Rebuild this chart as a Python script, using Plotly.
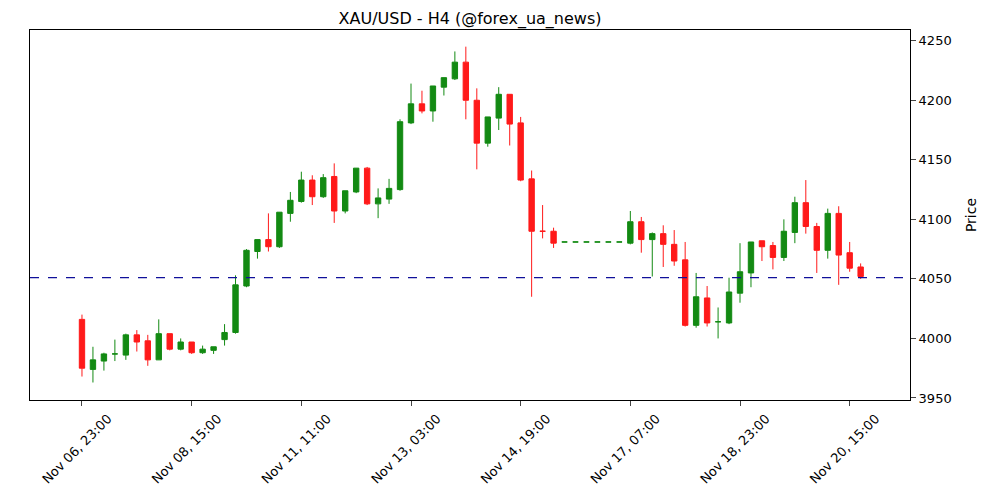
import plotly.graph_objects as go

opens = [4016, 3974, 3981, 3987, 3986, 4003, 3998, 3982, 4004, 3991,
         3997, 3988, 3990, 3999, 4005, 4044, 4073, 4083, 4077, 4105,
         4115, 4133, 4119, 4136, 4107, 4123, 4143, 4113, 4117, 4125,
         4181, 4197, 4191, 4211, 4218, 4232, 4200, 4164, 4185, 4205,
         4181, 4134, 4090, 4090, 4081, 4081, 4081, 4081, 4081, 4081,
         4080, 4098, 4083, 4088, 4079, 4066, 4011, 4034, 4014, 4013,
         4038, 4055, 4082, 4078, 4068, 4089, 4114, 4094, 4074, 4105,
         4072, 4060]
highs = [4020, 3993, 3988, 3999, 4004, 4007, 4003, 4016, 4004, 4000,
         3997, 3994, 3993, 4012, 4053, 4075, 4083, 4105, 4106, 4123,
         4140, 4137, 4138, 4147, 4124, 4143, 4144, 4126, 4134, 4184,
         4214, 4208, 4212, 4219, 4241, 4245, 4210, 4186, 4211, 4205,
         4186, 4141, 4112, 4093, 4081, 4081, 4081, 4081, 4081, 4081,
         4107, 4102, 4089, 4095, 4091, 4081, 4055, 4044, 4026, 4051,
         4080, 4081, 4082, 4081, 4100, 4119, 4133, 4097, 4109, 4111,
         4081, 4063]
lows = [3968, 3963, 3973, 3981, 3982, 3989, 3977, 3982, 3990, 3990,
        3987, 3987, 3987, 3994, 4004, 4043, 4067, 4073, 4076, 4098,
        4114, 4112, 4118, 4097, 4105, 4122, 4112, 4101, 4113, 4124,
        4180, 4189, 4182, 4204, 4217, 4184, 4142, 4161, 4175, 4162,
        4132, 4035, 4084, 4076, 4081, 4081, 4081, 4081, 4081, 4081,
        4079, 4072, 4052, 4060, 4061, 4010, 4009, 4010, 4000, 4012,
        4030, 4043, 4065, 4058, 4065, 4080, 4088, 4055, 4067, 4045,
        4056, 4050]
closes = [3975, 3982, 3987, 3987, 4003, 3997, 3982, 4004, 3991, 3997,
          3988, 3991, 3993, 4005, 4045, 4074, 4083, 4077, 4106, 4116,
          4133, 4119, 4135, 4107, 4124, 4143, 4113, 4118, 4126, 4182,
          4197, 4191, 4212, 4219, 4232, 4200, 4164, 4186, 4205, 4180,
          4133, 4090, 4090, 4080, 4081, 4081, 4081, 4081, 4081, 4081,
          4098, 4083, 4088, 4079, 4065, 4011, 4035, 4013, 4014, 4039,
          4056, 4081, 4077, 4068, 4090, 4114, 4094, 4074, 4105, 4070,
          4059, 4052]
level = 4051

tick_pos = [0, 10, 20, 30, 40, 50, 60, 70]
tick_text = ["Nov 06, 23:00", "Nov 08, 15:00", "Nov 11, 11:00", "Nov 13, 03:00",
             "Nov 14, 19:00", "Nov 17, 07:00", "Nov 18, 23:00", "Nov 20, 15:00"]
idx = list(range(len(opens)))

fig = go.Figure()
fig.add_trace(go.Candlestick(
    x=idx, open=opens, high=highs, low=lows, close=closes,
    increasing=dict(line=dict(color="#138a13", width=1), fillcolor="#138a13"),
    decreasing=dict(line=dict(color="#ff1a1a", width=1), fillcolor="#ff1a1a"),
    whiskerwidth=0, showlegend=False))
fig.add_hline(y=level, line=dict(color="#10109a", width=1.2, dash="dash"))

axis_style = dict(showline=True, linecolor="black", mirror=True, ticks="outside",
                  showgrid=False, zeroline=False, automargin=False,
                  tickfont=dict(size=13, color="black"))
fig.update_layout(
    width=1000, height=500, plot_bgcolor="white", paper_bgcolor="white",
    font=dict(family="DejaVu Sans"),
    title=dict(text="XAU/USD - H4 (@forex_ua_news)", x=0.462, y=0.99,
               font=dict(size=16, color="black"), automargin=False),
    margin=dict(l=22, r=98, t=22, b=108),
    xaxis=dict(range=[-4.74, 75.5], tickvals=tick_pos, ticktext=tick_text, tickangle=-45,
               ticklabelshift=26, ticklabelstandoff=0,
               rangeslider=dict(visible=False), **axis_style),
    yaxis=dict(range=[3948.3, 4259], side="right", dtick=50,
               title=dict(text="Price", font=dict(size=14, color="black")), **axis_style),
)
fig.write_html("out.html")
